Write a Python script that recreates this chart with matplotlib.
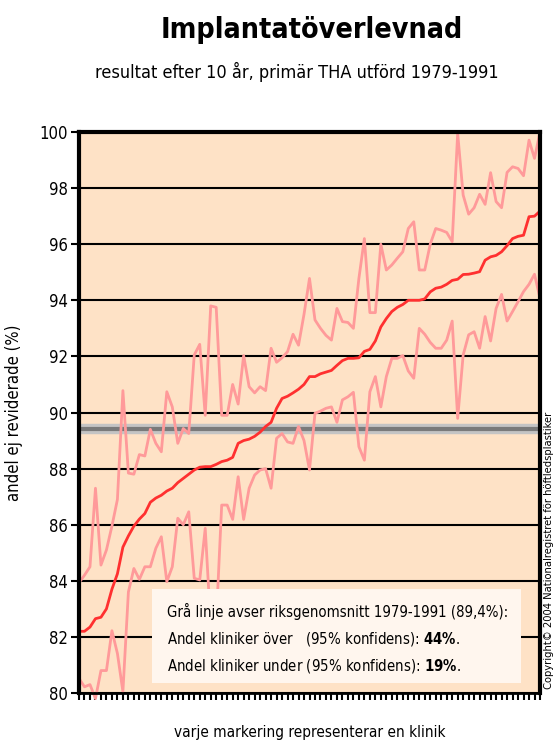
import numpy as np
import matplotlib
matplotlib.use('Agg')
from matplotlib import pyplot as plt
from matplotlib.patches import Rectangle

plt.rcParams['font.family'] = ['DejaVu Sans']
plt.rcParams['font.stretch'] = 'condensed'

# andel ej reviderade (%) per klinik, sorterat efter punktskattning
mid = [82.2, 82.2, 82.35, 82.65, 82.7, 83.0, 83.7, 84.25, 85.2, 85.6,
       85.95, 86.2, 86.4, 86.8, 86.95, 87.05, 87.2, 87.3, 87.5, 87.65,
       87.8, 87.95, 88.05, 88.07, 88.07, 88.15, 88.25, 88.3, 88.4, 88.9,
       89.0, 89.05, 89.15, 89.3, 89.5, 89.65, 90.15, 90.5, 90.58, 90.7,
       90.83, 91.0, 91.28, 91.28, 91.38, 91.44, 91.5, 91.68, 91.85, 91.93,
       91.93, 91.95, 92.18, 92.25, 92.55, 93.05, 93.35, 93.6, 93.75, 93.85,
       94.0, 94.0, 94.0, 94.05, 94.3, 94.43, 94.47, 94.57, 94.71, 94.75,
       94.92, 94.93, 94.97, 95.02, 95.43, 95.55, 95.6, 95.73, 95.95, 96.2,
       96.28, 96.32, 96.98, 97.0, 97.18]
upper = [83.93, 84.2, 84.5, 87.3, 84.56, 85.1, 85.95, 86.9, 90.78, 87.84,
         87.8, 88.5, 88.45, 89.4, 88.9, 88.6, 90.74, 90.2, 88.9, 89.43,
         89.25, 92.05, 92.43, 89.9, 93.8, 93.75, 89.9, 89.9, 91.0, 90.3,
         92.03, 90.92, 90.7, 90.92, 90.78, 92.29, 91.79, 91.95, 92.17, 92.79,
         92.4, 93.5, 94.78, 93.3, 93.0, 92.75, 92.58, 93.71, 93.24, 93.21,
         93.0, 94.78, 96.2, 93.56, 93.56, 96.0, 95.08, 95.26, 95.5, 95.73,
         96.56, 96.8, 95.08, 95.08, 96.0, 96.56, 96.5, 96.42, 96.09, 99.95,
         97.75, 97.07, 97.3, 97.78, 97.42, 98.55, 97.52, 97.3, 98.56, 98.76,
         98.7, 98.44, 99.71, 99.06, 100.0]
lower = [80.52, 80.22, 80.3, 79.8, 80.8, 80.8, 82.22, 81.41, 80.05, 83.6,
         84.44, 84.05, 84.5, 84.5, 85.16, 85.57, 83.97, 84.5, 86.23, 86.0,
         86.46, 84.09, 84.03, 85.87, 82.4, 82.5, 86.7, 86.7, 86.19, 87.71,
         86.19, 87.3, 87.77, 87.95, 88.0, 87.3, 89.08, 89.25, 88.95, 88.9,
         89.5, 89.0, 87.95, 89.97, 90.05, 90.15, 90.2, 89.65, 90.45, 90.56,
         90.72, 88.78, 88.3, 90.74, 91.28, 90.2, 91.28, 91.93, 91.93, 92.03,
         91.48, 91.22, 93.0, 92.79, 92.5, 92.29, 92.29, 92.58, 93.26, 89.79,
         92.05, 92.77, 92.88, 92.29, 93.42, 92.55, 93.71, 94.21, 93.26, 93.6,
         93.95, 94.31, 94.57, 94.93, 94.07]
riks = 89.4
y_ticks = [80, 82, 84, 86, 88, 90, 92, 94, 96, 98, 100]

x = np.arange(len(mid))

fig = plt.figure(figsize=(5.6, 7.42), dpi=100)
ax = fig.add_axes([79/560, 49/742, 461/560, 561/742])
ax.set_facecolor('#FEE2C6')

for v in y_ticks:
    ax.axhline(v, color='black', lw=1.5, zorder=1)

ax.axhline(riks, color='#c4c4c4', lw=7.5, zorder=2)
ax.axhline(riks, color='#7a7a7a', lw=3, zorder=3)

ax.plot(x, upper, color='#FF9A9A', lw=2, zorder=4, clip_on=False)
ax.plot(x, lower, color='#FF9A9A', lw=2, zorder=4, clip_on=False)
ax.plot(x, mid, color='#FF3030', lw=2, zorder=5)

ax.set_xlim(0, len(mid) - 1)
ax.set_ylim(80, 100)
ax.set_yticks(y_ticks)
ax.set_yticklabels([str(v) for v in y_ticks], fontsize=12)
ax.set_xticks(x)
ax.set_xticklabels([])
ax.tick_params(axis='x', direction='out', length=5, width=1.5, color='black')
ax.tick_params(axis='y', direction='out', length=6, width=1.5, pad=2)
for s in ['left', 'top', 'right']:
    ax.spines[s].set_linewidth(3)
ax.spines['bottom'].set_linewidth(2)
for s in ax.spines.values():
    s.set_zorder(10)

ax.set_ylabel('andel ej reviderade (%)', fontsize=12, labelpad=12)

# textruta
box = Rectangle((0.158, 0.018), 0.8, 0.168, transform=ax.transAxes,
                facecolor='#FFF6EE', edgecolor='none', zorder=8)
ax.add_patch(box)
ax.text(0.19, 0.145, 'Grå linje avser riksgenomsnitt 1979-1991 (89,4%):',
        transform=ax.transAxes, fontsize=10.7, va='center', zorder=9)
ax.text(0.19, 0.097, 'Andel kliniker över   (95% konfidens): $\\mathbf{44\\%}$.',
        transform=ax.transAxes, fontsize=10.7, va='center', zorder=9)
ax.text(0.19, 0.049, 'Andel kliniker under (95% konfidens): $\\mathbf{19\\%}$.',
        transform=ax.transAxes, fontsize=10.7, va='center', zorder=9)

fig.text(312/560, 1 - 30/742, 'Implantatöverlevnad', ha='center', va='center',
         fontsize=20.5, fontweight='bold')
fig.text(297/560, 1 - 72/742, 'resultat efter 10 år, primär THA utförd 1979-1991',
         ha='center', va='center', fontsize=13)
fig.text(310/560, 1 - 732/742, 'varje markering representerar en klinik',
         ha='center', va='center', fontsize=11)
fig.text(549/560, 1 - 550/742,
         'Copyright\u00a9 2004 Nationalregistret för höftledsplastiker',
         ha='center', va='center', rotation=90, fontsize=8)

fig.savefig('out.png', dpi=100)
